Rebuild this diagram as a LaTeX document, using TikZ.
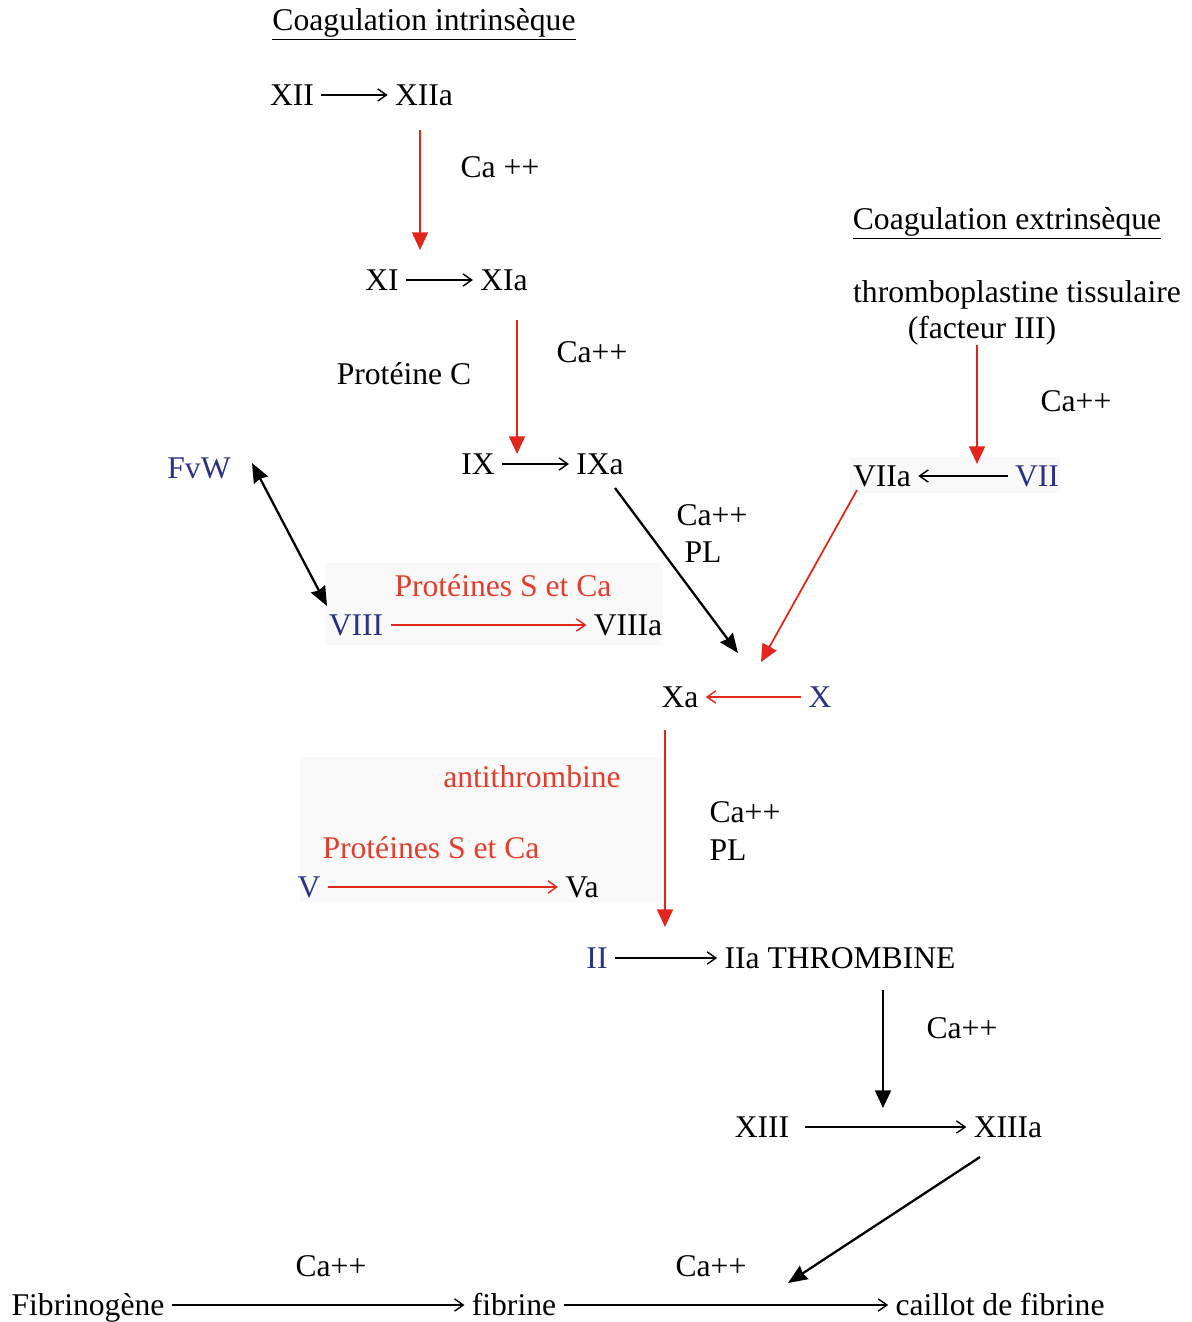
\documentclass[tikz,border=0pt]{standalone}
\usepackage{fontspec}
\setmainfont{Liberation Serif}
\usepackage{tikz}
\usetikzlibrary{arrows.meta}
\definecolor{fred}{RGB}{226,38,28}
\definecolor{fredtxt}{RGB}{226,62,46}
\definecolor{fblue}{RGB}{44,50,132}
\definecolor{pale}{RGB}{250,249,249}

\begin{document}
\begin{tikzpicture}[x=0.02cm, y=-0.02cm,
  every node/.style={font=\fontsize{18}{20}\selectfont, inner sep=4pt, text height=13pt, text depth=1pt},
  fac/.style={text=fblue},
  reg/.style={text=fredtxt},
  conv/.style={-{Straight Barb[length=5pt,width=7pt]}, line width=0.8pt},
  redconv/.style={conv, draw=fred},
  act/.style={-{Triangle[length=10pt,width=9pt]}, line width=1.2pt, draw=fred},
  push/.style={-{Stealth[length=11pt,width=9pt,inset=1pt]}, line width=1.3pt}]
\useasboundingbox (0,0) rectangle (1191,1322);

\fill[pale] (325,563) rectangle (663,645);
\fill[pale] (300,757) rectangle (667,902);
\fill[pale] (850,457) rectangle (1060,493);

\node (titreI) at (424,20) {\underline{Coagulation intrinsèque}};
\node (XII) at (292,95) {XII};
\node (XIIa) at (424,95) {XIIa};
\node (caA) at (500,167) {Ca ++};
\node (XI) at (382,280) {XI};
\node (XIa) at (504,280) {XIa};
\node (caB) at (592,352) {Ca++};
\node (protC) at (404,374) {Protéine C};
\node (IX) at (478,464) {IX};
\node (IXa) at (600,464) {IXa};
\node[fac] (FvW) at (199,468) {FvW};

\node (titreE) at (1007,219) {\underline{Coagulation extrinsèque}};
\node (thrombo) at (1017,292) {thromboplastine tissulaire};
\node (fIII) at (982,328) {(facteur III)};
\node (caC) at (1076,401) {Ca++};
\node (VIIa) at (882,476) {VIIa};
\node[fac] (VII) at (1037,476) {VII};

\node (caD) at (712,515) {Ca++};
\node (plD) at (703,552) {PL};
\node[reg] (protS1) at (503,586) {Protéines S et Ca};
\node[fac] (VIII) at (356,625) {VIII};
\node (VIIIa) at (628,625) {VIIIa};
\node (Xa) at (680,697) {Xa};
\node[fac] (X) at (820,697) {X};

\node[reg] (antith) at (532,777) {antithrombine};
\node (caE) at (745,812) {Ca++};
\node (plE) at (728,850) {PL};
\node[reg] (protS2) at (431,848) {Protéines S et Ca};
\node[fac] (V) at (309,887) {V};
\node (Va) at (582,887) {Va};
\node[fac] (II) at (597,958) {II};
\node (IIa) at (840,958) {IIa THROMBINE};
\node (caF) at (962,1028) {Ca++};
\node (XIII) at (762,1127) {XIII};
\node (XIIIa) at (1008,1127) {XIIIa};

\node (caG) at (331,1266) {Ca++};
\node (caH) at (711,1266) {Ca++};
\node (fibrinog) at (88,1305) {Fibrinogène};
\node (fibrine) at (514,1305) {fibrine};
\node (caillot) at (1000,1305) {caillot de fibrine};

\coordinate (c1a) at (420,130);
\coordinate (c1b) at (420,250);
\coordinate (c2a) at (517,320);
\coordinate (c2b) at (517,454);
\coordinate (c3a) at (977,345);
\coordinate (c3b) at (977,464);
\coordinate (c4a) at (665,730);
\coordinate (c4b) at (665,927);
\coordinate (c5a) at (883,990);
\coordinate (c5b) at (883,1108);
\coordinate (d1a) at (615,488);
\coordinate (d1b) at (738,653);
\coordinate (d2a) at (857,490);
\coordinate (d2b) at (761,662);
\coordinate (d3a) at (980,1157);
\coordinate (d3b) at (788,1283);
\coordinate (w1) at (252,463);
\coordinate (w2) at (327,606);

\draw[conv] (XII) -- (XIIa);
\draw[conv] (XI) -- (XIa);
\draw[conv] (IX) -- (IXa);
\draw[conv] (VII) -- (VIIa);
\draw[conv] (II) -- (IIa);
\draw[conv, shorten <=5pt] (XIII) -- (XIIIa);
\draw[conv] (fibrinog) -- (fibrine);
\draw[conv] (fibrine) -- (caillot);
\draw[redconv] (VIII) -- (VIIIa);
\draw[redconv] (V) -- (Va);
\draw[redconv] (X) -- (Xa);

\draw[act] (c1a) -- (c1b);
\draw[act] (c2a) -- (c2b);
\draw[act] (c3a) -- (c3b);
\draw[act] (c4a) -- (c4b);
\draw[act, line width=1pt] (d2a) -- (d2b);
\draw[act, draw=black, line width=1.3pt] (c5a) -- (c5b);

\draw[push] (d1a) -- (d1b);
\draw[push] (d3a) -- (d3b);
\draw[push, {Stealth[length=11pt,width=9pt,inset=1pt]}-{Stealth[length=11pt,width=9pt,inset=1pt]}] (w1) -- (w2);
\end{tikzpicture}
\end{document}
